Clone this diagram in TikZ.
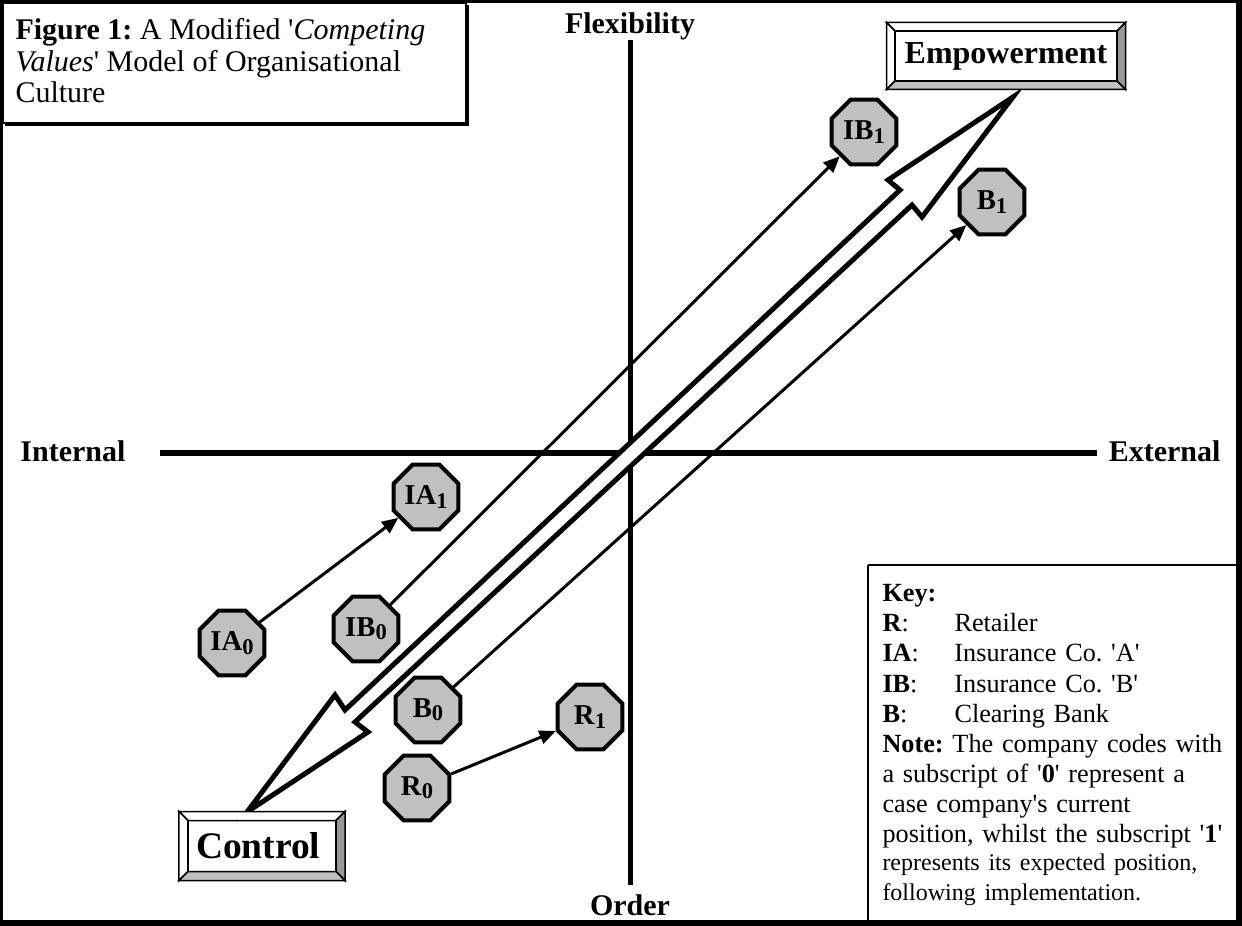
\documentclass[tikz,border=0pt]{standalone}
\usepackage{fontspec}
\setmainfont{Liberation Serif}
\usetikzlibrary{arrows.meta,calc,shapes.geometric}
\definecolor{octgray}{HTML}{C0C0C0}
\definecolor{bevdark}{HTML}{999999}
\definecolor{bevlight}{HTML}{C0C0C0}
\newcommand{\sq}{\textquotesingle}
\newcommand{\subn}[1]{\raisebox{-1.3pt}{\fontsize{9}{9}\selectfont #1}}
\newcommand{\drawbevel}[2]{%
  \coordinate (#1a) at (#1.north west);
  \coordinate (#1b) at (#1.north east);
  \coordinate (#1c) at (#1.south east);
  \coordinate (#1d) at (#1.south west);
  \coordinate (#1ia) at ($(#1a)+(#2,-#2)$);
  \coordinate (#1ib) at ($(#1b)+(-#2,-#2)$);
  \coordinate (#1ic) at ($(#1c)+(-#2,#2)$);
  \coordinate (#1id) at ($(#1d)+(#2,#2)$);
  \filldraw[bevline,fill=white] (#1a) -- (#1b) -- (#1ib) -- (#1ia) -- cycle;
  \filldraw[bevline,fill=white] (#1a) -- (#1ia) -- (#1id) -- (#1d) -- cycle;
  \filldraw[bevline,fill=bevdark] (#1b) -- (#1c) -- (#1ic) -- (#1ib) -- cycle;
  \filldraw[bevline,fill=bevlight] (#1d) -- (#1c) -- (#1ic) -- (#1id) -- cycle;
  \draw[bevline] (#1ia) rectangle (#1ic);
}
\frenchspacing
\begin{document}
\frenchspacing
\begin{tikzpicture}[x=0.4pt,y=-0.4pt,
  oct/.style={regular polygon, regular polygon sides=8, minimum size=28pt,
    inner sep=0pt, draw, line width=1.6pt, fill=octgray,
    font=\fontsize{11.5}{11.5}\selectfont\bfseries},
  conn/.style={line width=1.2pt, -{Triangle[length=6.5pt,width=5.5pt]}},
  axisline/.style={line width=2pt},
  axlabel/.style={font=\fontsize{12}{12}\selectfont\bfseries, inner sep=0pt},
  bevline/.style={line width=0.6pt},
  bignode/.style={inner sep=0pt}]
\useasboundingbox (0,0) rectangle (1242,926);
% frame
\fill[black] (0,0) rectangle (1242,926);
\fill[white] (3,3) rectangle (1236,920);
% title box
\draw[line width=0.9pt] (3,3) rectangle (466,123);
\draw[line width=0.9pt] (468,5) -- (468,125) -- (5,125);
\node[anchor=north west, inner sep=0pt, align=left,
  font=\fontsize{12}{12.6}\selectfont] (title) at (15,18)
  {\textbf{Figure 1:} A Modified \sq\textit{Competing}\\
   \textit{Values}\sq{} Model of Organisational\\
   Culture};
% key box
\draw[line width=0.8pt] (868,565) -- (868,920);
\draw[line width=0.8pt] (868,565) -- (1236,565);
\node[anchor=north west, inner sep=0pt, text width=142pt, align=left,
  font=\fontsize{10.5}{12.05}\selectfont] (key) at (882,584)
  {\textbf{Key:}\\
   \makebox[28.8pt][l]{\textbf{R}:}Retailer\\
   \makebox[28.8pt][l]{\textbf{IA}:}Insurance Co. \sq A\sq\\
   \makebox[28.8pt][l]{\textbf{IB}:}Insurance Co. \sq B\sq\\
   \makebox[28.8pt][l]{\textbf{B}:}Clearing Bank\\
   \textbf{Note:} The company codes with\\
   a subscript of \sq\textbf{0}\sq{} represent a\\
   case company\sq s current\\
   position, whilst the subscript \sq\textbf{1}\sq\par
   \fontsize{9.6}{11.2}\selectfont
   represents its expected position,\\
   following implementation.};
% axes
\coordinate (vtop) at (630,40);
\coordinate (vbot) at (630,885);
\coordinate (hleft) at (160,453);
\coordinate (hright) at (1097,453);
\draw[axisline] (vtop) -- (vbot);
\draw[axisline] (hleft) -- (hright);
\node[axlabel, anchor=base] (flex) at (630,34) {Flexibility};
\node[axlabel, anchor=base] (order) at (630,915) {Order};
\node[axlabel, anchor=base west] (internal) at (20,462) {Internal};
\node[axlabel, anchor=base east] (external) at (1221,462) {External};
% big double arrow
\coordinate (t1) at (1013,97);
\coordinate (t0) at (247,812);
\draw[line width=2pt, fill=white, line join=miter]
  (t1) -- (888,180) -- (900,190) -- (345,710) -- (335,695) -- (t0)
  -- (368,732) -- (355,722) -- (912,205) -- (922,217) -- cycle;
% octagons
\node[oct] (ia0) at (232,643) {IA\subn{0}};
\node[oct] (ia1) at (426,497) {IA\subn{1}};
\node[oct] (ib0) at (366,629) {IB\subn{0}};
\node[oct] (ib1) at (864,132) {IB\subn{1}};
\node[oct] (b0) at (428,710) {B\subn{0}};
\node[oct] (b1) at (992,202) {B\subn{1}};
\node[oct] (r0) at (417,788) {R\subn{0}};
\node[oct] (r1) at (590,717) {R\subn{1}};
% connectors
\draw[conn] (ia0) -- (ia1);
\draw[conn] (ib0) -- (ib1);
\draw[conn] (b0) -- (b1);
\draw[conn] (r0) -- (r1);
% beveled boxes
\node[bignode, minimum width=95.2pt, minimum height=26.4pt,
  font=\fontsize{12.8}{12.8}\selectfont\bfseries] (emp) at (1006,56) {Empowerment};
\drawbevel{emp}{3.4pt}
\node[bignode, minimum width=66pt, minimum height=27.2pt,
  font=\fontsize{15}{15}\selectfont\bfseries] (ctrl) at (262,846) {\hspace*{-3pt}Control};
\drawbevel{ctrl}{3.6pt}
\end{tikzpicture}
\end{document}
